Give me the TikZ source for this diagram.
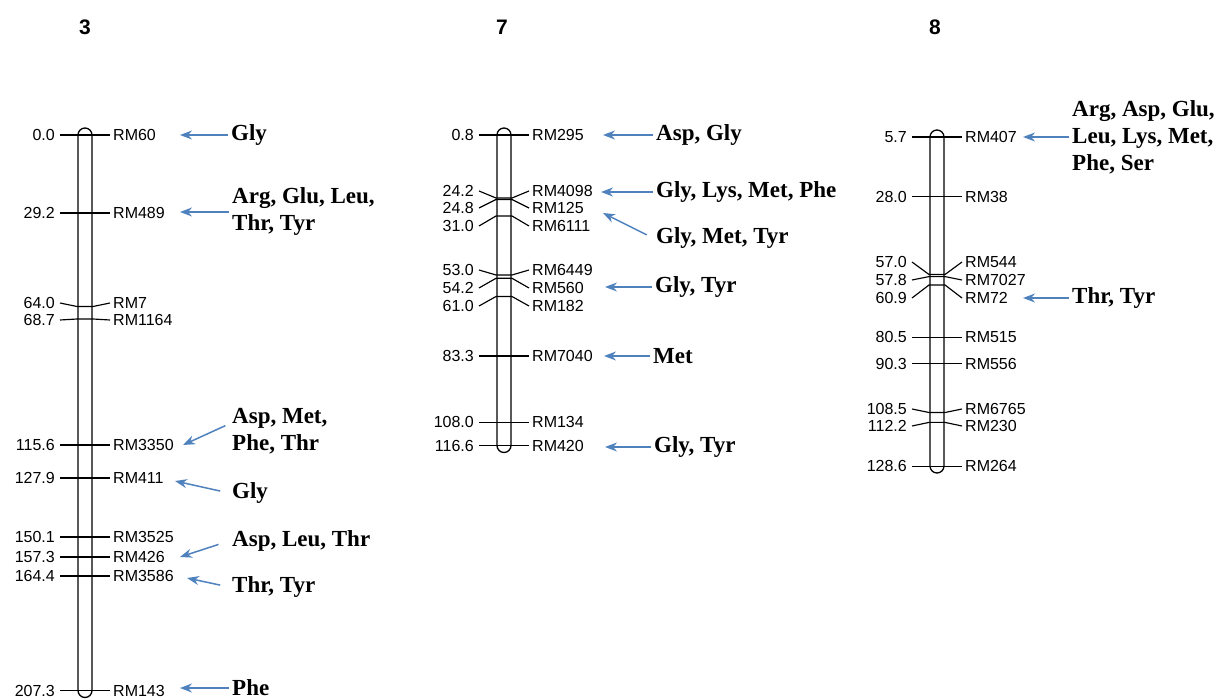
\documentclass[tikz,border=0pt]{standalone}
\usepackage{fontspec}
\setmainfont{Liberation Serif}
\setsansfont{Liberation Sans}
\usetikzlibrary{arrows.meta}
\definecolor{arrblue}{RGB}{79,129,189}
\begin{document}
\begin{tikzpicture}[x=1pt,y=-1pt,
  mkl/.style={anchor=east,font=\sffamily\fontsize{16}{18}\selectfont,inner xsep=5,inner ysep=0},
  mkr/.style={anchor=west,font=\sffamily\fontsize{16}{18}\selectfont,inner xsep=3,inner ysep=0},
  tick/.style={line width=1.15},
  bar/.style={draw,line width=1.3,fill=white,rounded corners=7},
  aa/.style={anchor=west,font=\bfseries\fontsize{23}{27}\selectfont,align=left,inner xsep=3,inner ysep=0},
  arr/.style={draw=arrblue,line width=1.5,-{Stealth[length=12pt,width=9pt]}},
  chrom/.style={font=\sffamily\bfseries\fontsize{21}{24}\selectfont}]
\useasboundingbox (0,0) rectangle (1222,700);
\node[chrom] (n3) at (85,27) {3};
\node[chrom] (n7) at (502,27) {7};
\node[chrom] (n8) at (935,27) {8};
\draw[bar] (78,128) rectangle (92,697.5);
\draw[bar] (497,128) rectangle (511,452.5);
\draw[bar] (930,130) rectangle (944,473);
\node[mkl] (a1l) at (60,135) {0.0};
\node[mkr] (a1r) at (110,135) {RM60};
\draw[tick] (a1l.east) -- (77,135) -- (93,135) -- (a1r.west);
\node[mkl] (a2l) at (60,213) {29.2};
\node[mkr] (a2r) at (110,213) {RM489};
\draw[tick] (a2l.east) -- (77,213) -- (93,213) -- (a2r.west);
\node[mkl] (a3l) at (60,303) {64.0};
\node[mkr] (a3r) at (110,303) {RM7};
\draw[tick] (a3l.east) -- (77,306.5) -- (93,306.5) -- (a3r.west);
\node[mkl] (a4l) at (60,320) {68.7};
\node[mkr] (a4r) at (110,320) {RM1164};
\draw[tick] (a4l.east) -- (77,319) -- (93,319) -- (a4r.west);
\node[mkl] (a5l) at (60,445) {115.6};
\node[mkr] (a5r) at (110,445) {RM3350};
\draw[tick] (a5l.east) -- (77,445) -- (93,445) -- (a5r.west);
\node[mkl] (a6l) at (60,478) {127.9};
\node[mkr] (a6r) at (110,478) {RM411};
\draw[tick] (a6l.east) -- (77,478) -- (93,478) -- (a6r.west);
\node[mkl] (a7l) at (60,537) {150.1};
\node[mkr] (a7r) at (110,537) {RM3525};
\draw[tick] (a7l.east) -- (77,537) -- (93,537) -- (a7r.west);
\node[mkl] (a8l) at (60,557) {157.3};
\node[mkr] (a8r) at (110,557) {RM426};
\draw[tick] (a8l.east) -- (77,557) -- (93,557) -- (a8r.west);
\node[mkl] (a9l) at (60,576) {164.4};
\node[mkr] (a9r) at (110,576) {RM3586};
\draw[tick] (a9l.east) -- (77,576) -- (93,576) -- (a9r.west);
\node[mkl] (a10l) at (60,690.5) {207.3};
\node[mkr] (a10r) at (110,690.5) {RM143};
\draw[tick] (a10l.east) -- (77,690.5) -- (93,690.5) -- (a10r.west);
\node[mkl] (b1l) at (479,135) {0.8};
\node[mkr] (b1r) at (529,135) {RM295};
\draw[tick] (b1l.east) -- (496,135) -- (512,135) -- (b1r.west);
\node[mkl] (b2l) at (479,191) {24.2};
\node[mkr] (b2r) at (529,191) {RM4098};
\draw[tick] (b2l.east) -- (496,198) -- (512,198) -- (b2r.west);
\node[mkl] (b3l) at (479,208) {24.8};
\node[mkr] (b3r) at (529,208) {RM125};
\draw[tick] (b3l.east) -- (496,199.5) -- (512,199.5) -- (b3r.west);
\node[mkl] (b4l) at (479,226) {31.0};
\node[mkr] (b4r) at (529,226) {RM6111};
\draw[tick] (b4l.east) -- (496,216) -- (512,216) -- (b4r.west);
\node[mkl] (b5l) at (479,270) {53.0};
\node[mkr] (b5r) at (529,270) {RM6449};
\draw[tick] (b5l.east) -- (496,275) -- (512,275) -- (b5r.west);
\node[mkl] (b6l) at (479,288) {54.2};
\node[mkr] (b6r) at (529,288) {RM560};
\draw[tick] (b6l.east) -- (496,278.3) -- (512,278.3) -- (b6r.west);
\node[mkl] (b7l) at (479,306) {61.0};
\node[mkr] (b7r) at (529,306) {RM182};
\draw[tick] (b7l.east) -- (496,296.5) -- (512,296.5) -- (b7r.west);
\node[mkl] (b8l) at (479,356) {83.3};
\node[mkr] (b8r) at (529,356) {RM7040};
\draw[tick] (b8l.east) -- (496,356) -- (512,356) -- (b8r.west);
\node[mkl] (b9l) at (479,422.4) {108.0};
\node[mkr] (b9r) at (529,422.4) {RM134};
\draw[tick] (b9l.east) -- (496,422.4) -- (512,422.4) -- (b9r.west);
\node[mkl] (b10l) at (479,445.5) {116.6};
\node[mkr] (b10r) at (529,445.5) {RM420};
\draw[tick] (b10l.east) -- (496,445.5) -- (512,445.5) -- (b10r.west);
\node[mkl] (c1l) at (912,137) {5.7};
\node[mkr] (c1r) at (962,137) {RM407};
\draw[tick] (c1l.east) -- (929,137) -- (945,137) -- (c1r.west);
\node[mkl] (c2l) at (912,196.7) {28.0};
\node[mkr] (c2r) at (962,196.7) {RM38};
\draw[tick] (c2l.east) -- (929,196.7) -- (945,196.7) -- (c2r.west);
\node[mkl] (c3l) at (912,262) {57.0};
\node[mkr] (c3r) at (962,262) {RM544};
\draw[tick] (c3l.east) -- (929,274.5) -- (945,274.5) -- (c3r.west);
\node[mkl] (c4l) at (912,280) {57.8};
\node[mkr] (c4r) at (962,280) {RM7027};
\draw[tick] (c4l.east) -- (929,276.6) -- (945,276.6) -- (c4r.west);
\node[mkl] (c5l) at (912,298) {60.9};
\node[mkr] (c5r) at (962,298) {RM72};
\draw[tick] (c5l.east) -- (929,285) -- (945,285) -- (c5r.west);
\node[mkl] (c6l) at (912,337.4) {80.5};
\node[mkr] (c6r) at (962,337.4) {RM515};
\draw[tick] (c6l.east) -- (929,337.4) -- (945,337.4) -- (c6r.west);
\node[mkl] (c7l) at (912,363.7) {90.3};
\node[mkr] (c7r) at (962,363.7) {RM556};
\draw[tick] (c7l.east) -- (929,363.7) -- (945,363.7) -- (c7r.west);
\node[mkl] (c8l) at (912,409) {108.5};
\node[mkr] (c8r) at (962,409) {RM6765};
\draw[tick] (c8l.east) -- (929,412.5) -- (945,412.5) -- (c8r.west);
\node[mkl] (c9l) at (912,426) {112.2};
\node[mkr] (c9r) at (962,426) {RM230};
\draw[tick] (c9l.east) -- (929,422.4) -- (945,422.4) -- (c9r.west);
\node[mkl] (c10l) at (912,466.3) {128.6};
\node[mkr] (c10r) at (962,466.3) {RM264};
\draw[tick] (c10l.east) -- (929,466.3) -- (945,466.3) -- (c10r.west);
\coordinate (t1) at (180,135);
\coordinate (t2) at (180,212);
\coordinate (t3) at (183,445);
\coordinate (t4) at (175,481);
\coordinate (t5) at (180,557);
\coordinate (t6) at (187,578);
\coordinate (t7) at (180,688);
\node[aa] (g1) at (228,135) {Gly};
\node[aa] (g2) at (229,212) {Arg, Glu, Leu,\\Thr, Tyr};
\node[aa] (g3) at (229,431) {Asp, Met,\\Phe, Thr};
\node[aa] (g4) at (229,493) {Gly};
\node[aa] (g5) at (229,541) {Asp, Leu, Thr};
\node[aa] (g6) at (229,587) {Thr, Tyr};
\node[aa] (g7) at (229,688) {Phe};
\draw[arr] (g1.west) -- (t1);
\draw[arr] (g2.west) -- (t2);
\draw[arr,shorten <=4] ([yshift=7]g3.west) -- (t3);
\draw[arr,shorten <=9] (g4.west) -- (t4);
\draw[arr,shorten <=11] (g5.west) -- (t5);
\draw[arr,shorten <=9] (g6.west) -- (t6);
\draw[arr] (g7.west) -- (t7);
\coordinate (u1) at (603,135);
\coordinate (u2) at (601,192);
\coordinate (u3) at (603,213);
\coordinate (u4) at (605,287);
\coordinate (u5) at (604,356);
\coordinate (u6) at (605,447);
\node[aa] (h1) at (653,135) {Asp, Gly};
\node[aa] (h2) at (653,192) {Gly, Lys, Met, Phe};
\node[aa] (h3) at (653,238) {Gly, Met, Tyr};
\node[aa] (h4) at (652,287) {Gly, Tyr};
\node[aa] (h5) at (650,356) {Met};
\node[aa] (h6) at (651,447) {Gly, Tyr};
\draw[arr] (h1.west) -- (u1);
\draw[arr] (h2.west) -- (u2);
\draw[arr,shorten <=7] (h3.west) -- (u3);
\draw[arr] (h4.west) -- (u4);
\draw[arr] (h5.west) -- (u5);
\draw[arr] (h6.west) -- (u6);
\coordinate (v1) at (1023,137);
\coordinate (v2) at (1023,298);
\node[aa] (k1) at (1069,137) {Arg, Asp, Glu,\\Leu, Lys, Met,\\Phe, Ser};
\node[aa] (k2) at (1069,298) {Thr, Tyr};
\draw[arr] (k1.west) -- (v1);
\draw[arr] (k2.west) -- (v2);
\end{tikzpicture}
\end{document}
